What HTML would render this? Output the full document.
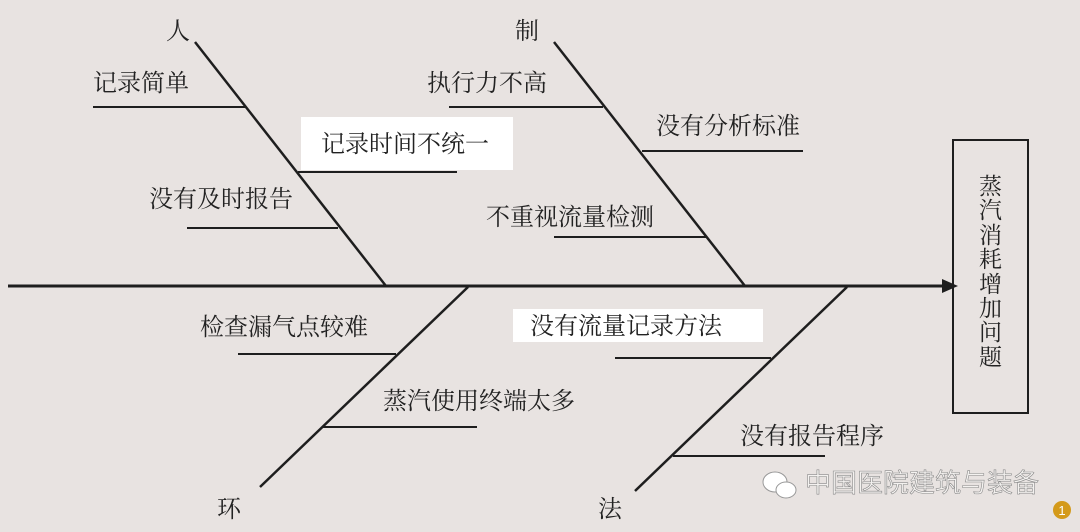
<!DOCTYPE html>
<html><head><meta charset="utf-8"><style>
html,body{margin:0;padding:0;}
body{width:1080px;height:532px;background:#e8e3e1;position:relative;overflow:hidden;font-family:"Liberation Serif","Noto Serif CJK SC",serif;color:#222;}
.t{position:absolute;font-size:24px;line-height:26px;white-space:nowrap;}
.wb{position:absolute;background:#fff;}
</style></head><body>
<div class="wb" style="left:301px;top:117px;width:212px;height:53px"></div>
<div class="wb" style="left:513px;top:309px;width:250px;height:33px"></div>
<svg width="1080" height="532" style="position:absolute;left:0;top:0">
<g stroke="#1e1e1e" fill="none">
<line x1="8" y1="286" x2="944" y2="286" stroke-width="3"/>
<line x1="195" y1="42" x2="386" y2="286" stroke-width="2.5"/>
<line x1="554" y1="42" x2="745" y2="286" stroke-width="2.5"/>
<line x1="468" y1="287" x2="260" y2="487" stroke-width="2.5"/>
<line x1="847" y1="287" x2="635" y2="491" stroke-width="2.5"/>
<g stroke-width="2">
<line x1="93" y1="107" x2="246" y2="107"/>
<line x1="298" y1="172" x2="457" y2="172"/>
<line x1="187" y1="228" x2="338" y2="228"/>
<line x1="449" y1="107" x2="603" y2="107"/>
<line x1="642" y1="151" x2="803" y2="151"/>
<line x1="554" y1="237" x2="706" y2="237"/>
<line x1="238" y1="354" x2="396" y2="354"/>
<line x1="323" y1="427" x2="477" y2="427"/>
<line x1="615" y1="358" x2="771" y2="358"/>
<line x1="673" y1="456" x2="825" y2="456"/>
</g>
<rect x="953" y="140" width="75" height="273" stroke-width="2"/>
</g>
<polygon points="958,286 942,279 942,293" fill="#1e1e1e"/>
<circle cx="1062" cy="510" r="9" fill="#d49a1a"/>
<text x="1062" y="515" font-size="13" fill="#fff" text-anchor="middle" font-family="Liberation Sans">1</text>
<g fill="#fff" stroke="#999" stroke-width="1">
<ellipse cx="775" cy="482" rx="12" ry="10"/>
<ellipse cx="786" cy="490" rx="10" ry="8"/>
</g>
</svg>
<div class="t" style="left:166px;top:19px">人</div>
<div class="t" style="left:515px;top:19px">制</div>
<div class="t" style="left:217px;top:497px">环</div>
<div class="t" style="left:598px;top:497px">法</div>
<div class="t" style="left:93px;top:71px">记录简单</div>
<div class="t" style="left:321px;top:132px">记录时间不统一</div>
<div class="t" style="left:149px;top:187px">没有及时报告</div>
<div class="t" style="left:427px;top:71px">执行力不高</div>
<div class="t" style="left:656px;top:114px">没有分析标准</div>
<div class="t" style="left:486px;top:205px">不重视流量检测</div>
<div class="t" style="left:200px;top:315px">检查漏气点较难</div>
<div class="t" style="left:383px;top:389px">蒸汽使用终端太多</div>
<div class="t" style="left:530px;top:314px">没有流量记录方法</div>
<div class="t" style="left:740px;top:424px">没有报告程序</div>
<div class="t" style="left:979px;top:175px;width:24px;font-size:23px;white-space:normal;line-height:24.4px">蒸汽消耗增加问题</div>
<div class="t" style="left:805px;top:470px;font-size:26px;font-family:'Liberation Sans','Noto Sans CJK SC',sans-serif;color:#f4f2f0;-webkit-text-stroke:0.6px #8a8a8a">中国医院建筑与装备</div>
</body></html>
